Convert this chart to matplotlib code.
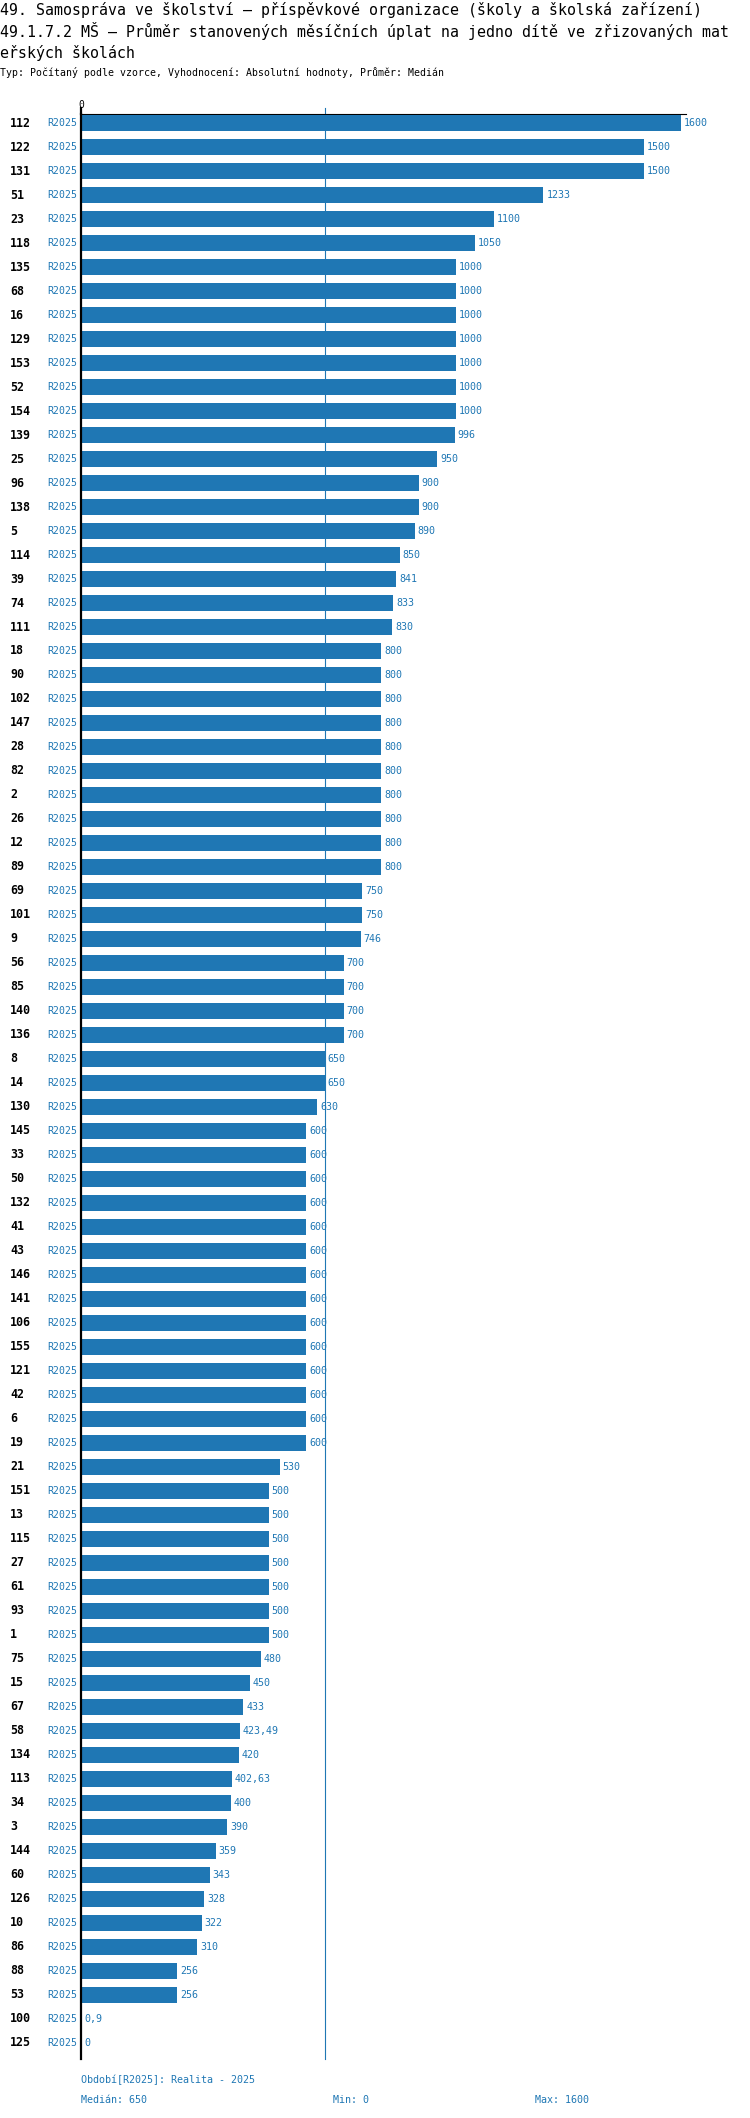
import matplotlib
matplotlib.use('Agg')
import matplotlib.pyplot as plt

# data
ids = ['112', '122', '131', '51', '23', '118', '135', '68', '16', '129',
       '153', '52', '154', '139', '25', '96', '138', '5', '114', '39',
       '74', '111', '18', '90', '102', '147', '28', '82', '2', '26',
       '12', '89', '69', '101', '9', '56', '85', '140', '136', '8',
       '14', '130', '145', '33', '50', '132', '41', '43', '146', '141',
       '106', '155', '121', '42', '6', '19', '21', '151', '13', '115',
       '27', '61', '93', '1', '75', '15', '67', '58', '134', '113',
       '34', '3', '144', '60', '126', '10', '86', '88', '53', '100',
       '125']
values = [1600, 1500, 1500, 1233, 1100, 1050, 1000, 1000, 1000, 1000,
          1000, 1000, 1000, 996, 950, 900, 900, 890, 850, 841,
          833, 830, 800, 800, 800, 800, 800, 800, 800, 800,
          800, 800, 750, 750, 746, 700, 700, 700, 700, 650,
          650, 630, 600, 600, 600, 600, 600, 600, 600, 600,
          600, 600, 600, 600, 600, 600, 530, 500, 500, 500,
          500, 500, 500, 500, 480, 450, 433, 423.49, 420, 402.63,
          400, 390, 359, 343, 328, 322, 310, 256, 256, 0.9,
          0]
period = 'R2025'
median = 650
vmin = 0
vmax = 1600

title1 = '49. Samospráva ve školství – příspěvkové organizace (školy a školská zařízení)'
title2 = '49.1.7.2 MŠ – Průměr stanovených měsíčních úplat na jedno dítě ve zřizovaných mat'
title3 = 'eřských školách'
subtitle = 'Typ: Počítaný podle vzorce, Vyhodnocení: Absolutní hodnoty, Průměr: Medián'
footer = 'Období[R2025]: Realita - 2025'

W, H = 750, 2118
blue = '#1f77b4'
mono = 'DejaVu Sans Mono'


def fmt(v):
    if float(v).is_integer():
        return str(int(v))
    return ('%g' % v).replace('.', ',')


def px(x, y):
    return x / W, 1 - y / H


fig = plt.figure(figsize=(W / 100, H / 100), dpi=100)

# axes placed in pixel coords: x 81..686, y 114..2059
ax_left, ax_right, ax_top, ax_bottom = 81, 686, 114, 2059
ax = fig.add_axes([ax_left / W, 1 - ax_bottom / H,
                   (ax_right - ax_left) / W, (ax_bottom - ax_top) / H])

scale = 0.375  # px per unit
n = len(values)
pos = list(range(n))
ax.barh(pos, values, height=0.66, color=blue, zorder=3)
ax.set_xlim(0, (ax_right - ax_left) / scale)
y0 = (ax_top - 123) / 24
y1 = (ax_bottom - 123) / 24
ax.set_ylim(y1, y0)

ax.axvline(median, color=blue, lw=0.8, zorder=1, ymax=1.003, clip_on=False)

for s in ['right', 'bottom']:
    ax.spines[s].set_visible(False)
ax.spines['left'].set_linewidth(1.6)
ax.spines['left'].set_zorder(4)
ax.spines['top'].set_linewidth(0.8)
ax.set_xticks([])
ax.set_yticks([])
ax.plot([0, 0], [y0, y0 - 0.25], color='black', lw=1.6, clip_on=False)

for i, v in enumerate(values):
    ax.annotate(fmt(v), (v, i), xytext=(3, 0), textcoords='offset pixels',
                va='center', ha='left', fontsize=7.2, family=mono, color=blue)
    ax.annotate(period, (0, i), xytext=(-3.5, 0), textcoords='offset pixels',
                va='center', ha='right', fontsize=7.1, family=mono, color=blue)
    ax.annotate(ids[i], (0, i), xycoords=('figure fraction', 'data'),
                xytext=(10, 0), textcoords='offset pixels',
                va='center', ha='left', fontsize=8.4, family=mono,
                weight='bold', color='black')

fig.text(*px(81, 105), '0', ha='center', va='center', fontsize=7, family=mono)

fig.text(*px(0, 10), title1, va='center', fontsize=10.7, family=mono)
fig.text(*px(0, 31), title2, va='center', fontsize=10.7, family=mono)
fig.text(*px(0, 53), title3, va='center', fontsize=10.7, family=mono)
fig.text(*px(0, 73), subtitle, va='center', fontsize=7.1, family=mono)

fig.text(*px(81, 2080), footer, va='center', fontsize=7.2, family=mono, color=blue)
fig.text(*px(81, 2100), 'Medián: %d' % median, va='center', fontsize=7.2, family=mono, color=blue)
fig.text(*px(333, 2100), 'Min: %d' % vmin, va='center', fontsize=7.2, family=mono, color=blue)
fig.text(*px(535, 2100), 'Max: %d' % vmax, va='center', fontsize=7.2, family=mono, color=blue)

fig.savefig('out.png', dpi=100)
